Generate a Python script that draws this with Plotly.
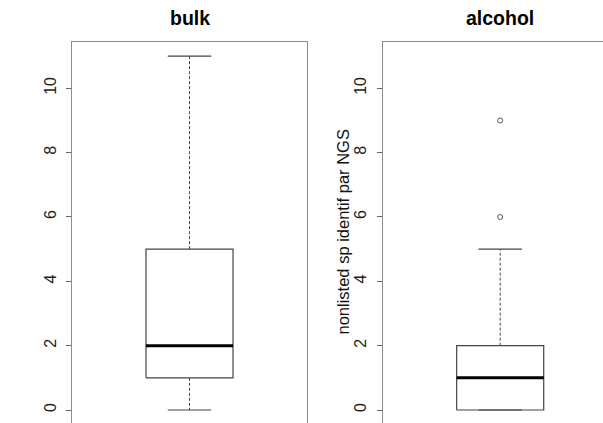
import plotly.graph_objects as go

# ---- data ----
panels = ["bulk", "alcohol"]
q1 = [1, 0]
median = [2, 1]
q3 = [5, 2]
whisker_low = [0, 0]
whisker_high = [11, 5]
outliers = [[], [6, 9]]
yticks = [0, 2, 4, 6, 8, 10]
y_label = "nonlisted sp identif par NGS"

W, H = 603, 423
FONT = "Liberation Sans, Arial, sans-serif"
BOX_COL = "#444444"
FRAME_COL = "#8a8a8a"

fig = go.Figure()

center = 1.0
hw = 0.2      # box half width (x units)
cw = 0.1      # staple half width

for i, name in enumerate(panels):
    xa = "x" if i == 0 else "x2"
    ya = "y" if i == 0 else "y2"
    common = dict(xaxis=xa, yaxis=ya, showlegend=False, hoverinfo="skip", mode="lines")
    # box
    fig.add_trace(go.Scatter(
        x=[center - hw, center + hw, center + hw, center - hw, center - hw],
        y=[q1[i], q1[i], q3[i], q3[i], q1[i]],
        line=dict(color=BOX_COL, width=1.2), **common))
    # whiskers (dashed)
    fig.add_trace(go.Scatter(x=[center, center], y=[q3[i], whisker_high[i]],
                             line=dict(color=BOX_COL, width=1, dash="3px,2px"), **common))
    fig.add_trace(go.Scatter(x=[center, center], y=[q1[i], whisker_low[i]],
                             line=dict(color=BOX_COL, width=1, dash="3px,2px"), **common))
    # staples
    fig.add_trace(go.Scatter(x=[center - cw, center + cw], y=[whisker_high[i]] * 2,
                             line=dict(color=BOX_COL, width=1.2), **common))
    fig.add_trace(go.Scatter(x=[center - cw, center + cw], y=[whisker_low[i]] * 2,
                             line=dict(color=BOX_COL, width=1.2), **common))
    # median
    fig.add_trace(go.Scatter(x=[center - hw, center + hw], y=[median[i]] * 2,
                             line=dict(color="black", width=3), **common))
    # outliers
    if outliers[i]:
        fig.add_trace(go.Scatter(x=[center] * len(outliers[i]), y=outliers[i],
                                 mode="markers", xaxis=xa, yaxis=ya, showlegend=False,
                                 hoverinfo="skip",
                                 marker=dict(symbol="circle-open", size=5,
                                             color="#555555", line=dict(width=1))))

# pixel geometry
top_px = 42
left1, right1 = 72, 307
left2 = 382.7
yrange = [-0.404, 11.439]
xr_full = 1.08
x2_hi = 0.46 + xr_full * (W - left2) / (right1 - left1)

yaxis_common = dict(
    range=yrange, tickvals=yticks, ticktext=[str(v) for v in yticks],
    showgrid=False, zeroline=False, showline=True, linecolor=FRAME_COL, linewidth=1,
    ticks="outside", ticklen=5, tickcolor="#666666", tickangle=-90,
    tickfont=dict(family=FONT, size=16, color="#222222"),
    ticklabelstandoff=4, domain=[0, 1],
)
xaxis_common = dict(
    showgrid=False, zeroline=False, showticklabels=False, ticks="",
    showline=True, linecolor=FRAME_COL, linewidth=1, side="top",
)

fig.update_layout(
    width=W, height=H,
    margin=dict(l=0, r=0, t=top_px, b=0, pad=0),
    paper_bgcolor="white", plot_bgcolor="white",
    font=dict(family=FONT, color="black"),
    xaxis=dict(domain=[left1 / W, right1 / W], range=[0.46, 1.54], anchor="y", **xaxis_common),
    xaxis2=dict(domain=[left2 / W, 1.0], range=[0.46, x2_hi], anchor="y2", **xaxis_common),
    yaxis=dict(anchor="x", mirror=True, **yaxis_common),
    yaxis2=dict(anchor="x2", mirror=False, **yaxis_common),
    annotations=[
        dict(text="<b>%s</b>" % panels[0], xref="x domain", yref="paper", x=0.5, y=1,
             yanchor="middle", yshift=24, showarrow=False,
             font=dict(family=FONT, size=19.5, color="black")),
        dict(text="<b>%s</b>" % panels[1], xref="x2", yref="paper", x=center, y=1,
             yanchor="middle", yshift=24, showarrow=False,
             font=dict(family=FONT, size=19.5, color="black")),
        dict(text=y_label, xref="paper", yref="paper", x=342 / W, y=0.5,
             xanchor="center", yanchor="middle", textangle=-90, showarrow=False,
             font=dict(family=FONT, size=16.5, color="#111111")),
    ],
)

fig.write_html("out.html", config={"displayModeBar": False},
               post_script="document.body.style.margin='0';")
